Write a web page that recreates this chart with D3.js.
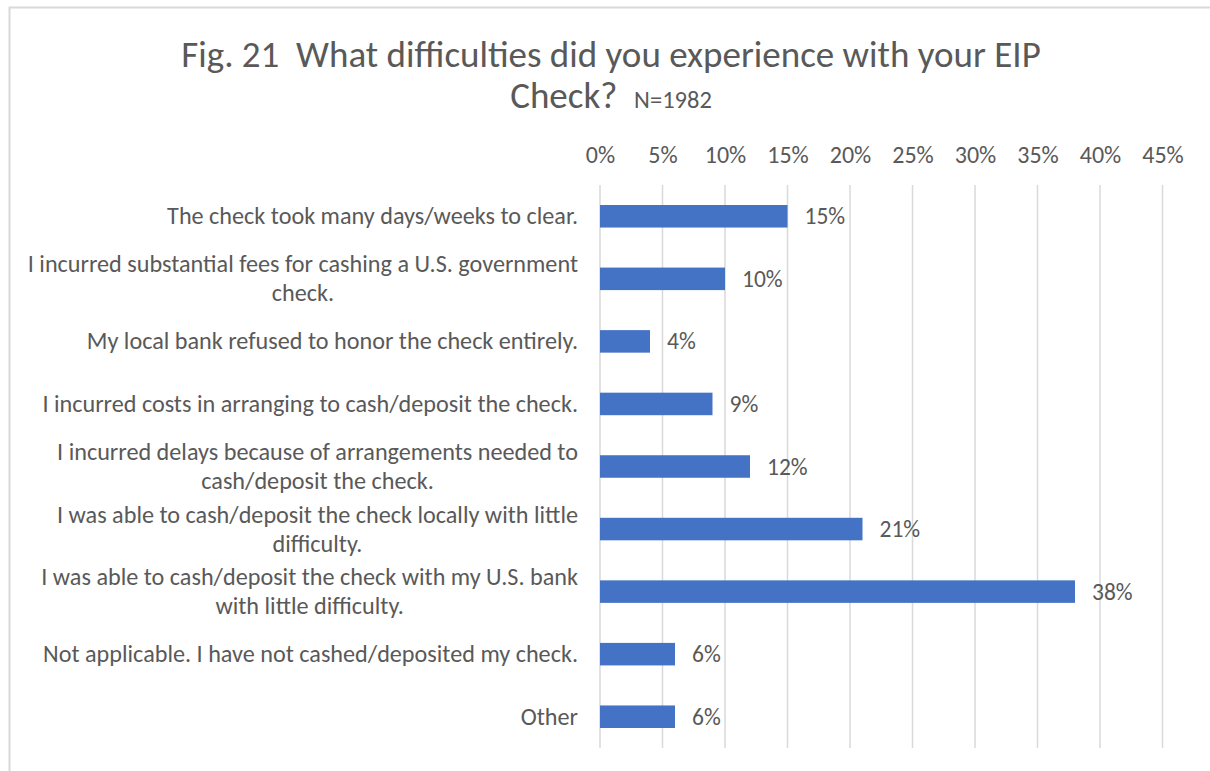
<!DOCTYPE html>
<html>
<head>
<meta charset="utf-8">
<script src="https://cdn.jsdelivr.net/npm/d3@7"></script>
<style>
  html, body { margin: 0; padding: 0; background: #fff; }
  svg { display: block; }
  text { font-family: Carlito, Calibri, Lato, sans-serif; fill: #595959; white-space: pre; }
</style>
</head>
<body>
<svg id="chart" width="1210" height="771"></svg>
<script>
// Survey responses, one entry per answer (line breaks mark wrapped labels)
const categories = [
  "The check took many days/weeks to clear.",
  "I incurred substantial fees for cashing a U.S. government\ncheck.",
  "My local bank refused to honor the check entirely.",
  "I incurred costs in arranging to cash/deposit the check.",
  "I incurred delays because of arrangements needed to\ncash/deposit the check.",
  "I was able to cash/deposit the check locally with little\ndifficulty.",
  "I was able to cash/deposit the check with my U.S. bank\nwith little difficulty.",
  "Not applicable. I have not cashed/deposited my check.",
  "Other"
];
const shares = [15, 10, 4, 9, 12, 21, 38, 6, 6]; // percent of respondents
const tickValues = [0, 5, 10, 15, 20, 25, 30, 35, 40, 45];
const titleLine1 = "Fig. 21  What difficulties did you experience with your EIP";
const titleLine2 = "Check?";
const sampleNote = "N=1982";

const svg = d3.select("#chart");
const W = 1210, H = 771;
const plot = { left: 600, right: 1162.5, top: 185, bottom: 748 };
const labelRight = 578;
const blue = "#4472C4";
const grid = "#d9d9d9";
const labelSize = 24.2;

// outer chart frame
svg.append("rect")
  .attr("x", 9.5).attr("y", 7.5)
  .attr("width", W + 20).attr("height", H + 20)
  .attr("fill", "none").attr("stroke", grid).attr("stroke-width", 2);

// title
const titleX = 611;
svg.append("text")
  .attr("x", titleX).attr("y", 67)
  .attr("text-anchor", "middle")
  .style("font-size", "37px")
  .text(titleLine1);
const t2 = svg.append("text")
  .attr("x", titleX).attr("y", 108)
  .attr("text-anchor", "middle");
t2.append("tspan").style("font-size", "37px").text(titleLine2 + "  ");
t2.append("tspan").style("font-size", "24.5px").text(sampleNote);

const x = d3.scaleLinear().domain([0, 45]).range([plot.left, plot.right]);
const y = d3.scaleBand().domain(categories)
  .range([plot.top, plot.bottom])
  .paddingInner(0.64).paddingOuter(0.32);

// vertical gridlines
svg.append("g").selectAll("line")
  .data(tickValues).join("line")
  .attr("x1", d => x(d)).attr("x2", d => x(d))
  .attr("y1", plot.top).attr("y2", plot.bottom)
  .attr("stroke", grid).attr("stroke-width", 1.5);

// top axis labels
const axis = d3.axisTop(x).tickValues(tickValues)
  .tickFormat(d => d + "%").tickSize(0).tickPadding(0);
const axisG = svg.append("g")
  .attr("transform", `translate(0, ${163})`)
  .call(axis);
axisG.select(".domain").remove();
axisG.attr("font-family", null).attr("font-size", null);
axisG.selectAll("text")
  .attr("dy", null).attr("y", 0)
  .style("font-size", "24px")
  .attr("fill", "#595959");

// bars
svg.append("g").selectAll("rect")
  .data(shares).join("rect")
  .attr("x", x(0))
  .attr("y", (d, i) => y(categories[i]))
  .attr("width", d => x(d) - x(0))
  .attr("height", y.bandwidth())
  .attr("fill", blue);

// value labels
svg.append("g").selectAll("text")
  .data(shares).join("text")
  .attr("x", d => x(d) + 17)
  .attr("y", (d, i) => y(categories[i]) + y.bandwidth() / 2 + 8)
  .style("font-size", "23.5px")
  .text(d => d + "%");

// category labels: block right-aligned, lines centered within the block
const lineGap = 29;
categories.forEach(cat => {
  const lines = cat.split("\n");
  const cy = y(cat) + y.bandwidth() / 2;
  const g = svg.append("g");
  const texts = lines.map((ln, j) => g.append("text")
    .attr("y", cy + 8 + (j - (lines.length - 1) / 2) * lineGap)
    .style("font-size", labelSize + "px")
    .text(ln));
  const widths = texts.map(t => t.node().getComputedTextLength());
  const blockW = d3.max(widths);
  texts.forEach(t => t.attr("x", labelRight - blockW / 2).attr("text-anchor", "middle"));
});
</script>
</body>
</html>
